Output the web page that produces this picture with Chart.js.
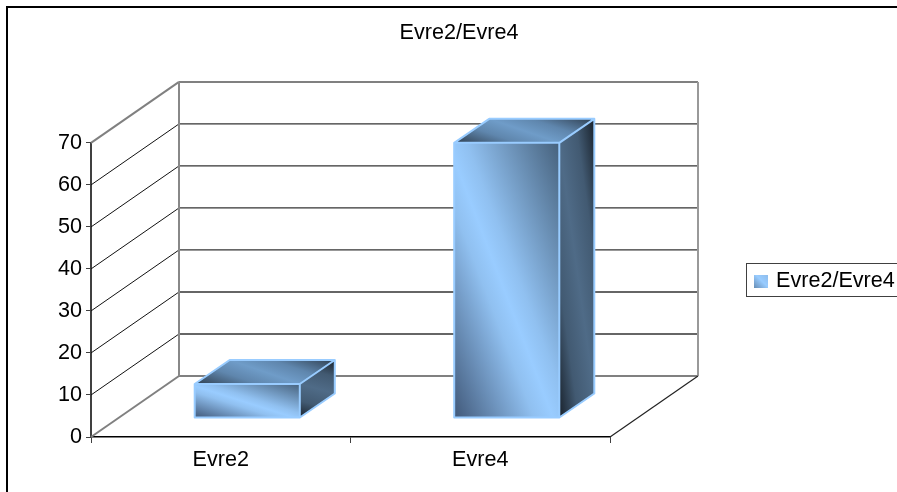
<!DOCTYPE html>
<html>
<head>
<meta charset="utf-8">
<title>Evre2/Evre4</title>
<style>
  html, body { margin: 0; width: 897px; height: 492px; overflow: hidden; background: #fff; }
  #wrap { position: relative; width: 897px; height: 492px; overflow: hidden; }
  canvas { position: absolute; left: 0; top: 0; }
  #legend {
    position: absolute; left: 746px; top: 263px; width: 151px; height: 32px; box-sizing: content-box;
    border: 1px solid #404040; border-right: none;
    font: 21.6px "Liberation Sans", Arial, sans-serif; color: #000; line-height: 32px; white-space: nowrap;
  }
  #legend i {
    position: absolute; left: 7px; top: 11px; width: 14px; height: 13px;
    background: linear-gradient(45deg, #668db5, #99ccff 55%, #8dbcec);
  }
  #legend span { position: absolute; left: 29px; top: 0; }
</style>
</head>
<body>
<div id="wrap">
  <canvas id="chart" width="918" height="492"></canvas>
  <div id="legend"></div>
</div>
<script src="https://cdn.jsdelivr.net/npm/chart.js@4/dist/chart.umd.min.js"></script>
<script>
"use strict";

const categories = ["Evre2", "Evre4"];
const seriesName = "Evre2/Evre4";
const seriesValues = [8.1, 65.5];
const yTicks = [0, 10, 20, 30, 40, 50, 60, 70];

const labelFont = { family: '"Liberation Sans", Arial, sans-serif', size: 21.6 };

// how far the back wall and the boxes sit behind the front plane
const wallDepth = { dx: 88, dy: -61 };
const boxOffset = { dx: 26.5, dy: -19 };
const boxDepth = { dx: 35, dy: -24 };

function line(ctx, x1, y1, x2, y2, color, width) {
  ctx.strokeStyle = color;
  ctx.lineWidth = width;
  ctx.beginPath();
  ctx.moveTo(x1, y1);
  ctx.lineTo(x2, y2);
  ctx.stroke();
}

// fill a parallelogram given a corner and two edge vectors, gradient runs corner to corner
function shadedFace(ctx, x, y, ux, uy, vx, vy, stops) {
  ctx.save();
  ctx.transform(ux, uy, vx, vy, x, y);
  const grad = ctx.createLinearGradient(0, 1, 1, 0);
  stops.forEach(s => grad.addColorStop(s[0], s[1]));
  ctx.fillStyle = grad;
  ctx.fillRect(0, 0, 1, 1);
  ctx.restore();
}

function drawBox(ctx, bar) {
  const left = bar.x - bar.width / 2 + boxOffset.dx;
  const right = left + bar.width;
  const top = bar.y + boxOffset.dy;
  const bottom = bar.base + boxOffset.dy;
  const w = right - left;
  const h = bottom - top;
  const dx = boxDepth.dx;
  const dy = boxDepth.dy;

  shadedFace(ctx, left, top, w, 0, 0, h, [
    [0, "#41597a"], [0.38, "#90c0f0"], [0.47, "#99ccff"], [0.56, "#90c0f0"], [1, "#46617c"],
  ]);
  shadedFace(ctx, left + dx, top + dy, w, 0, -dx, -dy, [
    [0, "#2f3f50"], [0.3, "#5f86ad"], [0.5, "#6f9cc8"], [0.7, "#5f86ad"], [1, "#2f3f50"],
  ]);
  shadedFace(ctx, right, top, dx, dy, 0, h, [
    [0, "#19222c"], [0.25, "#425a72"], [0.5, "#4f6b87"], [0.75, "#425a72"], [1, "#19222c"],
  ]);

  ctx.strokeStyle = "#99ccff";
  ctx.lineWidth = 2;
  ctx.lineJoin = "round";
  ctx.beginPath();
  ctx.rect(left, top, w, h);
  ctx.moveTo(left, top);
  ctx.lineTo(left + dx, top + dy);
  ctx.lineTo(right + dx, top + dy);
  ctx.lineTo(right + dx, bottom + dy);
  ctx.lineTo(right, bottom);
  ctx.moveTo(right, top);
  ctx.lineTo(right + dx, top + dy);
  ctx.stroke();
}

const depthWalls = {
  id: "depthWalls",
  beforeDatasetsDraw(chart) {
    const ctx = chart.ctx;
    const y = chart.scales.y;
    const x = chart.scales.x;
    const dx = wallDepth.dx;
    const dy = wallDepth.dy;
    const wallLeft = x.left + dx;
    const wallRight = x.right + dx;
    ctx.save();
    yTicks.forEach(tick => {
      const py = y.getPixelForValue(tick);
      const edge = tick === yTicks[0] || tick === yTicks[yTicks.length - 1];
      line(ctx, x.left, py, wallLeft, py + dy, edge ? "#808080" : "#111", edge ? 2 : 1);
      line(ctx, wallLeft, py + dy, wallRight, py + dy, edge ? "#808080" : "#333", edge ? 2 : 1.3);
    });
    line(ctx, wallLeft, y.top + dy, wallLeft, y.bottom + dy, "#888", 2);
    line(ctx, wallRight, y.top + dy, wallRight, y.bottom + dy, "#999", 2);
    line(ctx, x.right, y.bottom, wallRight, y.bottom + dy, "#222", 1.2);
    ctx.restore();
  },
  beforeDatasetDraw(chart, args) {
    chart.ctx.save();
    args.meta.data.forEach(bar => drawBox(chart.ctx, bar));
    chart.ctx.restore();
    return false;
  },
};

// outer frame, runs off the right and bottom of the page
const frame = {
  id: "frame",
  beforeDraw(chart) {
    chart.ctx.save();
    chart.ctx.strokeStyle = "#000";
    chart.ctx.lineWidth = 2;
    chart.ctx.strokeRect(7, 7, chart.width, chart.height);
    chart.ctx.restore();
  },
};

// empty box keeping room on the right without narrowing the title
const rightSpacer = {
  id: "rightSpacer",
  beforeInit(chart) {
    Chart.layouts.addBox(chart, {
      position: "right",
      weight: 0,
      fullSize: false,
      options: {},
      isHorizontal() { return false; },
      update(maxWidth, maxHeight) { this.width = 308; this.height = maxHeight; },
      draw() {},
    });
  },
};

new Chart(document.getElementById("chart"), {
  type: "bar",
  data: {
    labels: categories,
    datasets: [{
      label: seriesName,
      data: seriesValues,
      categoryPercentage: 1,
      barPercentage: 0.405,
    }],
  },
  plugins: [frame, rightSpacer, depthWalls],
  options: {
    responsive: false,
    animation: false,
    plugins: {
      legend: { display: false },
      tooltip: { enabled: false },
      title: {
        display: true,
        text: seriesName,
        color: "#000",
        font: { ...labelFont, weight: "normal" },
        padding: { top: 20, bottom: 97 },
      },
    },
    scales: {
      x: {
        afterFit: scale => { scale.height = 55; },
        grid: { drawOnChartArea: false, tickLength: 6, color: "#404040" },
        border: { color: "#000", width: 1.5 },
        ticks: { color: "#000", font: labelFont, padding: 4, maxRotation: 0 },
      },
      y: {
        min: 0,
        max: 70,
        afterFit: scale => { scale.width = 91; },
        afterBuildTicks: scale => { scale.ticks = yTicks.map(value => ({ value })); },
        grid: { drawOnChartArea: false, tickLength: 5, color: "#404040" },
        border: { color: "#404040", width: 2 },
        ticks: { color: "#000", font: labelFont, padding: 4 },
      },
    },
  },
});

// legend sits in the page, not the canvas
document.getElementById("legend").innerHTML = "<i></i><span>" + seriesName + "</span>";
</script>
</body>
</html>
